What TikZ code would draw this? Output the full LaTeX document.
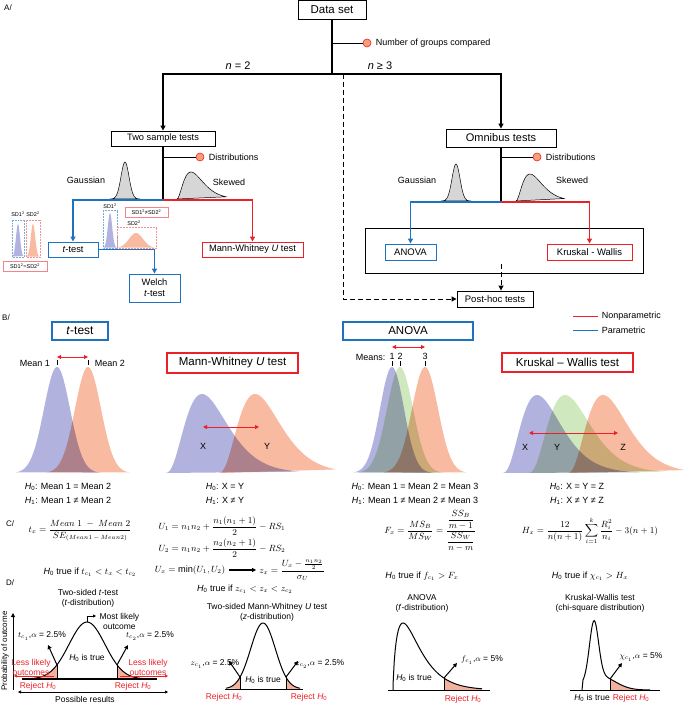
\documentclass[tikz,border=0pt]{standalone}
\usepackage{fontspec}
\setmainfont{Liberation Sans}
\usepackage{amsmath}
\usetikzlibrary{arrows.meta,positioning}

\definecolor{pblue}{RGB}{30,115,190}
\definecolor{npred}{RGB}{236,32,39}
\definecolor{dblue}{RGB}{178,178,222}
\definecolor{dred}{RGB}{248,186,160}
\definecolor{dgreen}{RGB}{208,232,190}
\definecolor{dgray}{RGB}{214,214,214}
\definecolor{dotfill}{RGB}{245,160,120}
\definecolor{tailfill}{RGB}{242,178,158}

\newcommand{\fsz}[2]{\fontsize{#1}{#2}\selectfont}

\begin{document}
\begin{tikzpicture}[x=1pt,y=-1pt,
  font=\fsz{9}{10.5},
  flowbox/.style={draw,line width=0.9pt,inner sep=1pt,align=center},
  pbox/.style={flowbox,draw=pblue},
  npbox/.style={flowbox,draw=npred},
  trunk/.style={line width=1.5pt},
  pline/.style={pblue,line width=1.7pt},
  npline/.style={npred,line width=1.7pt},
  tip/.style={-{Triangle[length=5pt,width=5pt]}},
  smalltip/.style={-{Triangle[length=4pt,width=4pt]}},
  meanarrow/.style={npred,line width=1pt,{Triangle[length=4pt,width=4pt]}-{Triangle[length=4pt,width=4pt]}},
  orangedot/.style={circle,draw=npred,fill=dotfill,line width=0.6pt,minimum size=8pt,inner sep=0pt},
  sdlabel/.style={font=\fsz{5.5}{6},inner sep=0.5pt},
  sdbox/.style={draw=npred!55,line width=0.6pt,font=\fsz{5.5}{6},inner sep=0.5pt,minimum height=10pt},
  redtxt/.style={text=npred},
  dtxt/.style={font=\fsz{8.5}{10}},
  formula/.style={font=\fsz{9.2}{11},inner sep=1pt},
  curve/.style={line width=1pt},
  critline/.style={line width=0.9pt}]
\useasboundingbox (0,0) rectangle (685,703);

% ---------------- A/
\node[font=\fsz{8}{9}] (lblA) at (8,8) {A/};
\node[flowbox,font=\fsz{11.5}{13},minimum width=68pt,minimum height=19pt] (data) at (332,9.5) {Data set};
\coordinate (split) at (332,74);
\draw[trunk] (data.south) -- (split);
\node[orangedot] (gdot) at (367,43) {};
\draw[line width=0.6pt] (data.south |- gdot) -- (gdot);
\node[right=1pt of gdot] (groups) {Number of groups compared};

\node[flowbox,font=\fsz{9.3}{10},minimum width=104pt,minimum height=15pt] (two) at (163,138.5) {Two sample tests};
\node[flowbox,font=\fsz{11}{12},minimum width=110pt,minimum height=18pt] (omni) at (501,138) {Omnibus tests};
\draw[trunk,tip] (split) -| (two.north);
\draw[trunk,tip] (split) -| (omni.north);
\node[font=\fsz{11}{12}] (ntwo) at (238,66) {\textit{n} = 2};
\node[font=\fsz{11}{12}] (nthree) at (380,66) {\textit{n} ≥ 3};

% post-hoc
\node[flowbox,font=\fsz{9.5}{11},minimum width=76pt,minimum height=16pt] (posthoc) at (495,299) {Post-hoc tests};
\coordinate (dash) at (343,74);
\draw[dashed,dash pattern=on 5pt off 3pt,line width=1pt,tip] (dash) |- (posthoc.west);
\node[draw,line width=1pt,minimum width=278pt,minimum height=45pt] (omnibox) at (504,250.5) {};
\coordinate (phtop) at (501,264);
\draw[dashed,dash pattern=on 5pt off 3pt,line width=1pt,tip] (phtop) -- (phtop |- posthoc.north);

% omnibus branch
\draw[fill=dgray,line width=0.5pt] plot[domain=441:471,samples=40] (\x,{201-37*exp(-0.5*pow((\x-456)/4,2))}) -- cycle;
\draw[fill=dgray,line width=0.5pt] plot[domain=516:564,samples=50] (\x,{201-27*((\x-516)/14)*((\x-516)/14)*exp(2*(1-(\x-516)/14))}) -- cycle;
\coordinate (osplit) at (501,202);
\draw[trunk] (omni.south) -- (osplit);
\node[orangedot] (odot) at (537,157) {};
\draw[line width=0.6pt] (omni.south |- odot) -- (odot);
\node[right=1pt of odot] (odist) {Distributions};
\node (ogauss) at (417,180) {Gaussian};
\node (oskew) at (572,180) {Skewed};
\node[pbox,font=\fsz{9.5}{11},minimum width=51pt,minimum height=16pt] (anova) at (410.5,252) {ANOVA};
\node[npbox,font=\fsz{9.5}{11},minimum width=85pt,minimum height=16pt] (kw) at (589.5,252) {Kruskal - Wallis};
\draw[pline,tip] (osplit) -| (anova.north);
\draw[npline,tip] (osplit) -| (kw.north);

% two sample branch
\draw[fill=dgray,line width=0.5pt] plot[domain=110:140,samples=40] (\x,{199-37*exp(-0.5*pow((\x-125)/4,2))}) -- cycle;
\draw[fill=dgray,line width=0.5pt] plot[domain=177:226,samples=50] (\x,{199-27*((\x-177)/14)*((\x-177)/14)*exp(2*(1-(\x-177)/14))}) -- cycle;
\coordinate (tsplit) at (163,200);
\draw[trunk] (two.south) -- (tsplit);
\node[orangedot] (tdot) at (200,157) {};
\draw[line width=0.6pt] (two.south |- tdot) -- (tdot);
\node[right=1pt of tdot] (tdist) {Distributions};
\node (tgauss) at (86,180) {Gaussian};
\node (tskew) at (229,182) {Skewed};
\node[pbox,font=\fsz{9.3}{10},minimum width=50pt,minimum height=15pt] (ttest) at (73,249.5) {\textit{t}-test};
\node[npbox,font=\fsz{9.3}{10},minimum width=101pt,minimum height=15pt] (mwu) at (252.5,249.5) {Mann-Whitney \textit{U} test};
\node[pbox,font=\fsz{9.3}{11},minimum width=51pt,minimum height=28pt] (welch) at (154.5,288) {Welch\\\textit{t}-test};
\draw[pline,tip] (tsplit) -| (ttest.north);
\draw[npline,tip] (tsplit) -| (mwu.north);
\draw[pline,tip] (ttest.east) -| (welch.north);

% variances
\fill[dblue] plot[domain=12.5:23.5,samples=30] (\x,{257-33*exp(-0.5*pow((\x-18)/2,2))}) -- cycle;
\fill[dred] plot[domain=26.5:39.5,samples=30] (\x,{257-33*exp(-0.5*pow((\x-33)/2.2,2))}) -- cycle;
\draw[pblue!60,densely dotted,line width=0.5pt] (12,220) rectangle (24,257);
\draw[npred!50,densely dotted,line width=0.5pt] (26,220) rectangle (40,257);
\node[sdlabel] (sdl1) at (18,214) {SD1\textsuperscript{2}};
\node[sdlabel] (sdl2) at (33,214) {SD2\textsuperscript{2}};
\node[sdbox,minimum width=44pt] (sdeq) at (25,266) {SD1\textsuperscript{2}=SD2\textsuperscript{2}};
\fill[dblue] plot[domain=103.5:116.5,samples=30] (\x,{248-35*exp(-0.5*pow((\x-110)/2.2,2))}) -- cycle;
\fill[dred] plot[domain=117.5:155.5,samples=40] (\x,{248-15*exp(-0.5*pow((\x-136)/7,2))}) -- cycle;
\draw[pblue!60,densely dotted,line width=0.5pt] (103,210) rectangle (117,248);
\draw[npred!50,densely dotted,line width=0.5pt] (117,227) rectangle (156,248);
\node[sdlabel] (sdm1) at (110,206) {SD1\textsuperscript{2}};
\node[sdlabel] (sdm2) at (134,223) {SD2\textsuperscript{2}};
\node[sdbox,minimum width=43pt] (sdneq) at (146.5,212.5) {SD1\textsuperscript{2}≠SD2\textsuperscript{2}};

% ---------------- B/
\node[font=\fsz{8}{9}] (lblB) at (6,318) {B/};
\draw[npred,line width=1pt] (573,316) -- ++(25,0) node[right=0pt,text=black] (lgnp) {Nonparametric};
\draw[pblue,line width=1pt] (573,330) -- ++(25,0) node[right=0pt,text=black] (lgp) {Parametric};

\begin{scope}[blend group=multiply]
  % t-test
  \fill[dblue] plot[domain=16:100,samples=70] (\x,{473-106*exp(-0.5*pow((\x-57)/13,2))}) -- cycle;
  \fill[dred] plot[domain=47:130,samples=70] (\x,{473-106*exp(-0.5*pow((\x-88)/13,2))}) -- cycle;
  % Mann-Whitney
  \fill[dblue] plot[domain=165:300,samples=80] (\x,{473-79*((\x-165)/37)*((\x-165)/37)*((\x-165)/37)*exp(3*(1-(\x-165)/37))}) -- cycle;
  \fill[dred] plot[domain=218:336,samples=80] (\x,{473-79*((\x-218)/37)*((\x-218)/37)*((\x-218)/37)*exp(3*(1-(\x-218)/37))}) -- cycle;
  % ANOVA
  \fill[dblue] plot[domain=353:440,samples=70] (\x,{473-106*exp(-0.5*pow((\x-392)/12,2))}) -- cycle;
  \fill[dgreen] plot[domain=360:445,samples=70] (\x,{473-106*exp(-0.5*pow((\x-400)/13,2))}) -- cycle;
  \fill[dred] plot[domain=384:466,samples=70] (\x,{473-106*exp(-0.5*pow((\x-425)/13,2))}) -- cycle;
  % Kruskal-Wallis
  \fill[dblue] plot[domain=502:640,samples=80] (\x,{473-78*((\x-502)/35)*((\x-502)/35)*((\x-502)/35)*exp(3*(1-(\x-502)/35))}) -- cycle;
  \fill[dgreen] plot[domain=528:665,samples=80] (\x,{473-78*((\x-528)/37)*((\x-528)/37)*((\x-528)/37)*exp(3*(1-(\x-528)/37))}) -- cycle;
  \fill[dred] plot[domain=567:685,samples=80] (\x,{473-78*((\x-567)/36)*((\x-567)/36)*((\x-567)/36)*exp(3*(1-(\x-567)/36))}) -- cycle;
\end{scope}

% t-test
\node[pbox,line width=1.1pt,font=\fsz{12}{13},minimum width=56pt,minimum height=18pt] (tbox) at (80,331) {\textit{t}-test};
\coordinate (m1) at (57,360); \coordinate (m2) at (88,360);
\draw[line width=1pt] (m1) -- ++(0,5);
\draw[line width=1pt] (m2) -- ++(0,5);
\draw[meanarrow] ([yshift=3pt]m1) -- ([yshift=3pt]m2);
\node (mean1) at (35,363) {Mean 1};
\node (mean2) at (110,363) {Mean 2};
\node (th0) at (68,487) {\textit{H}\textsubscript{0}: Mean 1 = Mean 2};
\node (th1) at (68,501) {\textit{H}\textsubscript{1}: Mean 1 ≠ Mean 2};

% Mann-Whitney
\node[npbox,line width=1.1pt,font=\fsz{11.5}{13},minimum width=131pt,minimum height=20pt] (mwbox) at (232.5,363) {Mann-Whitney \textit{U} test};
\coordinate (mx) at (203,427); \coordinate (my) at (259,427);
\draw[meanarrow] (mx) -- (my);
\node (lx) at (203,446) {X};
\node (ly) at (267,446) {Y};
\node (mh0) at (225,487) {\textit{H}\textsubscript{0}: X = Y};
\node (mh1) at (225,501) {\textit{H}\textsubscript{1}: X ≠ Y};

% ANOVA
\node[pbox,line width=1.1pt,font=\fsz{11.5}{13},minimum width=130pt,minimum height=18pt] (abox) at (408,331) {ANOVA};
\node[anchor=east] (means) at (389,357) {Means:};
\node (a1) at (392,356) {1};
\node (a2) at (400,356) {2};
\node (a3) at (425,356) {3};
\draw[line width=1pt] (392,361) -- ++(0,5);
\draw[line width=1pt] (400,361) -- ++(0,5);
\draw[line width=1pt] (425,361) -- ++(0,5);
\coordinate (ma) at (392,347); \coordinate (mb) at (425,347);
\draw[meanarrow] (ma) -- (mb);
\node (ah0) at (415,487) {\textit{H}\textsubscript{0}: Mean 1 = Mean 2 = Mean 3};
\node (ah1) at (415,501) {\textit{H}\textsubscript{1}: Mean 1 ≠ Mean 2 ≠ Mean 3};

% Kruskal-Wallis
\node[npbox,line width=1.1pt,font=\fsz{11.5}{13},minimum width=131pt,minimum height=19pt] (kwbox) at (567.5,362.5) {Kruskal – Wallis test};
\coordinate (kx) at (529,433); \coordinate (kz) at (618,433);
\draw[meanarrow] (kx) -- (kz);
\node (kwx) at (525,447) {X};
\node (kwy) at (557,447) {Y};
\node (kwz) at (623,447) {Z};
\node (kh0) at (577,487) {\textit{H}\textsubscript{0}: X = Y = Z};
\node (kh1) at (577,501) {\textit{H}\textsubscript{1}: X ≠ Y ≠ Z};

% ---------------- C/
\node[font=\fsz{8}{9}] (lblC) at (10,524) {C/};
\node[formula] (tform) at (80,531) {$t_x = \dfrac{Mean\ 1\ -\ Mean\ 2}{SE_{(Mean1\,-\,Mean2)}}$};
\node (tcrit) at (90,572) {\textit{H}\textsubscript{0} true if $t_{c_1} < t_x < t_{c_2}$};
\node[formula] (u1) at (222,526) {$U_1 = n_1n_2 + \dfrac{n_1(n_1+1)}{2} - RS_1$};
\node[formula] (u2) at (222,548) {$U_2 = n_1n_2 + \dfrac{n_2(n_2+1)}{2} - RS_2$};
\node[formula] (umin) at (190,570) {$U_x = \min(U_1,U_2)$};
\node[formula] (zx) at (292,570) {$z_x = \dfrac{U_x - \frac{n_1n_2}{2}}{\sigma_U}$};
\draw[line width=1.3pt,smalltip] ([xshift=3pt]umin.east) -- ([xshift=-2pt]zx.west);
\node (zcrit) at (245,589) {\textit{H}\textsubscript{0} true if $z_{c_1} < z_x < z_{c_2}$};
\node[formula] (fform) at (430,531) {$F_x = \dfrac{MS_B}{MS_W} = \dfrac{\dfrac{SS_B}{m-1}}{\dfrac{SS_W}{n-m}}$};
\node (fcrit) at (422,576) {\textit{H}\textsubscript{0} true if $f_{c_1} > F_x$};
\node[formula] (hform) at (590,531) {$H_x = \dfrac{12}{n(n+1)}\displaystyle\sum_{i=1}^{k}\dfrac{R_i^2}{n_i} - 3(n+1)$};
\node (hcrit) at (590,576) {\textit{H}\textsubscript{0} true if $\chi_{c_1} > H_x$};

% ---------------- D/
\node[font=\fsz{8}{9}] (lblD) at (10,583) {D/};

% two-sided t-test
\node[dtxt,align=center] (ttitle) at (88,598) {Two-sided \textit{t}-test\\(\textit{t}-distribution)};
\coordinate (yax) at (13,690);
\draw[line width=0.8pt,smalltip] (yax) -- (13,613);
\node[dtxt,font=\fsz{8}{9},rotate=90] (prob) at (5,651) {Probability of outcome};
\coordinate (xl) at (18,692); \coordinate (xr) at (168,692);
\draw[line width=0.6pt,{Triangle[length=3pt,width=3pt]}-{Triangle[length=3pt,width=3pt]}] (xl) -- (xr);
\node[dtxt] (poss) at (85,699) {Possible results};
\fill[tailfill] plot[domain=22:57,samples=30] (\x,{679-57*exp(-0.5*pow((\x-87)/18,2))}) -- (57,679) -- cycle;
\fill[tailfill] plot[domain=117:152,samples=30] (\x,{679-57*exp(-0.5*pow((\x-87)/18,2))}) -- (152,679) -- (117,679) -- cycle;
\draw[curve] plot[domain=22:152,samples=80] (\x,{679-57*exp(-0.5*pow((\x-87)/18,2))});
\draw[line width=1.6pt] (22,679) -- (157,679);
\coordinate (tc1) at (57,665); \coordinate (tc2) at (117,665);
\draw[critline] (57,679) -- (tc1);
\draw[critline] (117,679) -- (tc2);
\coordinate (tc1e) at (48,645); \coordinate (tc2e) at (128,645);
\draw[line width=1pt,smalltip] (tc1) -- (tc1e);
\draw[line width=1pt,smalltip] (tc2) -- (tc2e);
\node[dtxt] (tc1l) at (42,636) {$t_{c_1}$,$\alpha$ = 2.5\%};
\node[dtxt] (tc2l) at (150,636) {$t_{c_2}$,$\alpha$ = 2.5\%};
\coordinate (tpk) at (87,622);
\node[dtxt,align=center,anchor=west] (mlo) at (96,621) {Most likely\\outcome};
\coordinate (mlarr) at (96,616);
\draw[line width=0.8pt,-{Triangle[length=3pt,width=3pt]}] (tpk) |- (mlarr);
\node[dtxt] (th0true) at (87,658) {\textit{H}\textsubscript{0} is true};
\node[dtxt,redtxt,align=center] (ll1) at (31,667) {Less likely\\outcomes};
\node[dtxt,redtxt,align=center] (ll2) at (148,667) {Less likely\\outcomes};
\coordinate (ll1a) at (54,676); \coordinate (ll1b) at (14,676);
\coordinate (ll2a) at (120,676); \coordinate (ll2b) at (168,676);
\draw[npred,line width=0.7pt,-{Triangle[length=3pt,width=3pt]}] (ll1a) -- (ll1b);
\draw[npred,line width=0.7pt,-{Triangle[length=3pt,width=3pt]}] (ll2a) -- (ll2b);
\node[dtxt,redtxt] (trej1) at (38,686) {Reject \textit{H}\textsubscript{0}};
\node[dtxt,redtxt] (trej2) at (133,686) {Reject \textit{H}\textsubscript{0}};

% two-sided Mann-Whitney
\node[dtxt,align=center] (mtitle) at (267,612) {Two-sided Mann-Whitney \textit{U} test\\(\textit{z}-distribution)};
\fill[tailfill] plot[domain=226:240,samples=20] (\x,{689-66*exp(-0.5*pow((\x-263)/12.4,2))}) -- (240,689) -- cycle;
\fill[tailfill] plot[domain=286:300,samples=20] (\x,{689-66*exp(-0.5*pow((\x-263)/12.4,2))}) -- (300,689) -- (286,689) -- cycle;
\draw[curve] plot[domain=226:300,samples=70] (\x,{689-66*exp(-0.5*pow((\x-263)/12.4,2))});
\draw[line width=1pt] (225,689) -- (303,689);
\coordinate (zc1) at (240,677); \coordinate (zc2) at (286,677);
\draw[critline] (240,689) -- (zc1);
\draw[critline] (286,689) -- (zc2);
\coordinate (zc1e) at (229,661); \coordinate (zc2e) at (298,661);
\draw[line width=1pt,smalltip] (zc1) -- (zc1e);
\draw[line width=1pt,smalltip] (zc2) -- (zc2e);
\node[dtxt] (zc1l) at (215,664) {$z_{c_1}$,$\alpha$ = 2.5\%};
\node[dtxt] (zc2l) at (320,664) {$z_{c_2}$,$\alpha$ = 2.5\%};
\node[dtxt] (mh0true) at (263,680) {\textit{H}\textsubscript{0} is true};
\node[dtxt,redtxt] (mrej1) at (224,697) {Reject \textit{H}\textsubscript{0}};
\node[dtxt,redtxt] (mrej2) at (309,697) {Reject \textit{H}\textsubscript{0}};

% ANOVA f-distribution
\node[dtxt,align=center] (atitle) at (422,603) {ANOVA\\(\textit{f}-distribution)};
\fill[tailfill] plot[domain=444:482,samples=30] (\x,{690-67*pow((\x-393)/10,0.7)*exp(0.7*(1-(\x-393)/10))}) -- (482,690) -- (444,690) -- cycle;
\draw[curve] (393,690) -- plot[domain=393.2:482,samples=90] (\x,{690-67*pow((\x-393)/10,0.7)*exp(0.7*(1-(\x-393)/10))});
\draw[line width=1pt] (388,690) -- (490,690);
\coordinate (fc1) at (444,678);
\draw[critline] (444,690) -- (fc1);
\coordinate (fc1e) at (457,663);
\draw[line width=1pt,smalltip] (fc1) -- (fc1e);
\node[dtxt] (fc1l) at (482,660) {$f_{c_1}$,$\alpha$ = 5\%};
\node[dtxt] (ah0true) at (414,678) {\textit{H}\textsubscript{0} is true};
\node[dtxt,redtxt] (arej) at (463,699) {Reject \textit{H}\textsubscript{0}};

% Kruskal-Wallis chi-square
\node[dtxt,align=center] (ktitle) at (600,603) {Kruskal-Wallis test\\(chi-square distribution)};
\fill[tailfill] plot[domain=610:650,samples=30] (\x,{690-69*(0.82*exp(-0.5*pow((\x-594)/4.5,2))+0.2*exp(-0.5*pow((\x-600)/15,2)))}) -- (650,690) -- (610,690) -- cycle;
\draw[curve] (582,690) -- plot[domain=583:650,samples=90] (\x,{690-69*(0.82*exp(-0.5*pow((\x-594)/4.5,2))+0.2*exp(-0.5*pow((\x-600)/15,2)))});
\draw[line width=1pt] (570,690) -- (660,690);
\coordinate (xc1) at (610,679);
\draw[critline] (610,690) -- (xc1);
\coordinate (xc1e) at (622,663);
\draw[line width=1pt,smalltip] (xc1) -- (xc1e);
\node[dtxt] (xc1l) at (641,657) {$\chi_{c_1}$,$\alpha$ = 5\%};
\node[dtxt] (kh0true) at (592,698) {\textit{H}\textsubscript{0} is true};
\node[dtxt,redtxt] (krej) at (631,698) {Reject \textit{H}\textsubscript{0}};
\end{tikzpicture}
\end{document}
